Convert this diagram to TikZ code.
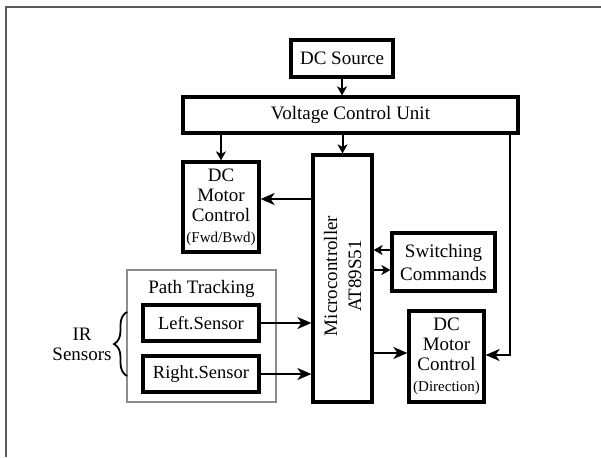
\documentclass[tikz,border=0pt]{standalone}
\usepackage{fontspec}
\setmainfont{Liberation Serif}
\usetikzlibrary{arrows.meta,decorations.pathreplacing}
\tikzset{
  blk/.style={draw=black,line width=3.2pt,fill=white,inner sep=0pt,align=center,font=\fontsize{19}{20}\selectfont},
  sens/.style={blk,font=\fontsize{18.5}{20}\selectfont},
  conn/.style={line width=2pt},
  big/.style={conn,-{Stealth[length=14pt,width=12pt,inset=4pt]}},
  small/.style={conn,-{Stealth[length=9pt,width=10pt,inset=2.5pt]}},
}
\begin{document}
\begin{tikzpicture}[x=1pt,y=-1pt]
\useasboundingbox (0,0) rectangle (601,457);
\draw[line width=2pt,color=black!65] (6,457) -- (6,7) -- (601,7);
% path tracking frame
\node[draw=black!45,line width=1.5pt,minimum width=149pt,minimum height=132pt,inner sep=0pt] (pt) at (201.5,336) {};
\node[anchor=base,font=\fontsize{19}{20}\selectfont] (ptl) at (201.5,293) {Path Tracking};
% blocks
\node[blk,minimum width=102pt,minimum height=37pt] (dcs) at (342,58.5) {DC Source};
\node[blk,minimum width=335pt,minimum height=36pt] (vcu) at (350.5,115) {Voltage Control Unit};
\node[blk,minimum width=76pt,minimum height=90pt] (fwd) at (221,207) {DC\\Motor\\Control\\[1pt]{\fontsize{15}{16}\selectfont(Fwd/Bwd)}};
\node[blk,minimum width=59pt,minimum height=247pt] (mc) at (342.5,278.5) {};
\node[rotate=90,align=center,font=\fontsize{19}{24}\selectfont] (mct) at (342.5,276) {Microcontroller\\AT89S51};
\node[blk,minimum width=103pt,minimum height=58pt,font=\fontsize{19}{23}\selectfont] (sw) at (443.5,262) {Switching\\Commands};
\node[blk,minimum width=75pt,minimum height=91pt] (dir) at (446.5,356.5) {DC\\Motor\\Control\\[1pt]{\fontsize{15}{16}\selectfont(Direction)}};
\node[sens,minimum width=116pt,minimum height=36pt] (ls) at (201,323) {Left.Sensor};
\node[sens,minimum width=116pt,minimum height=36pt] (rs) at (201,374) {Right.Sensor};
% IR sensors label and brace
\node[align=center,font=\fontsize{19}{20}\selectfont] (ir) at (82,344) {IR\\Sensors};
\coordinate (bb) at (127,376);
\coordinate (bt) at (127,312);
\draw[line width=1.8pt,decorate,decoration={brace,amplitude=13pt}] (bb) -- (bt);
% connectors
\draw[small] (dcs.south) -- (dcs.south |- vcu.north);
\draw[small] (fwd.north |- vcu.south) -- (fwd.north);
\draw[small] (mc.north |- vcu.south) -- (mc.north);
\coordinate (vr) at (510,133);
\draw[big] (vr) |- (dir.east |- 0,355);
\draw[big] (mc.west |- 0,199) -- (fwd.east |- 0,199);
\draw[small] (sw.west |- 0,250) -- (mc.east |- 0,250);
\draw[small] (mc.east |- 0,270) -- (sw.west |- 0,270);
\draw[big] (mc.east |- 0,353) -- (dir.west |- 0,353);
\draw[big] (ls.east) -- (mc.west |- ls.east);
\draw[big] (rs.east) -- (mc.west |- rs.east);
\end{tikzpicture}
\end{document}
